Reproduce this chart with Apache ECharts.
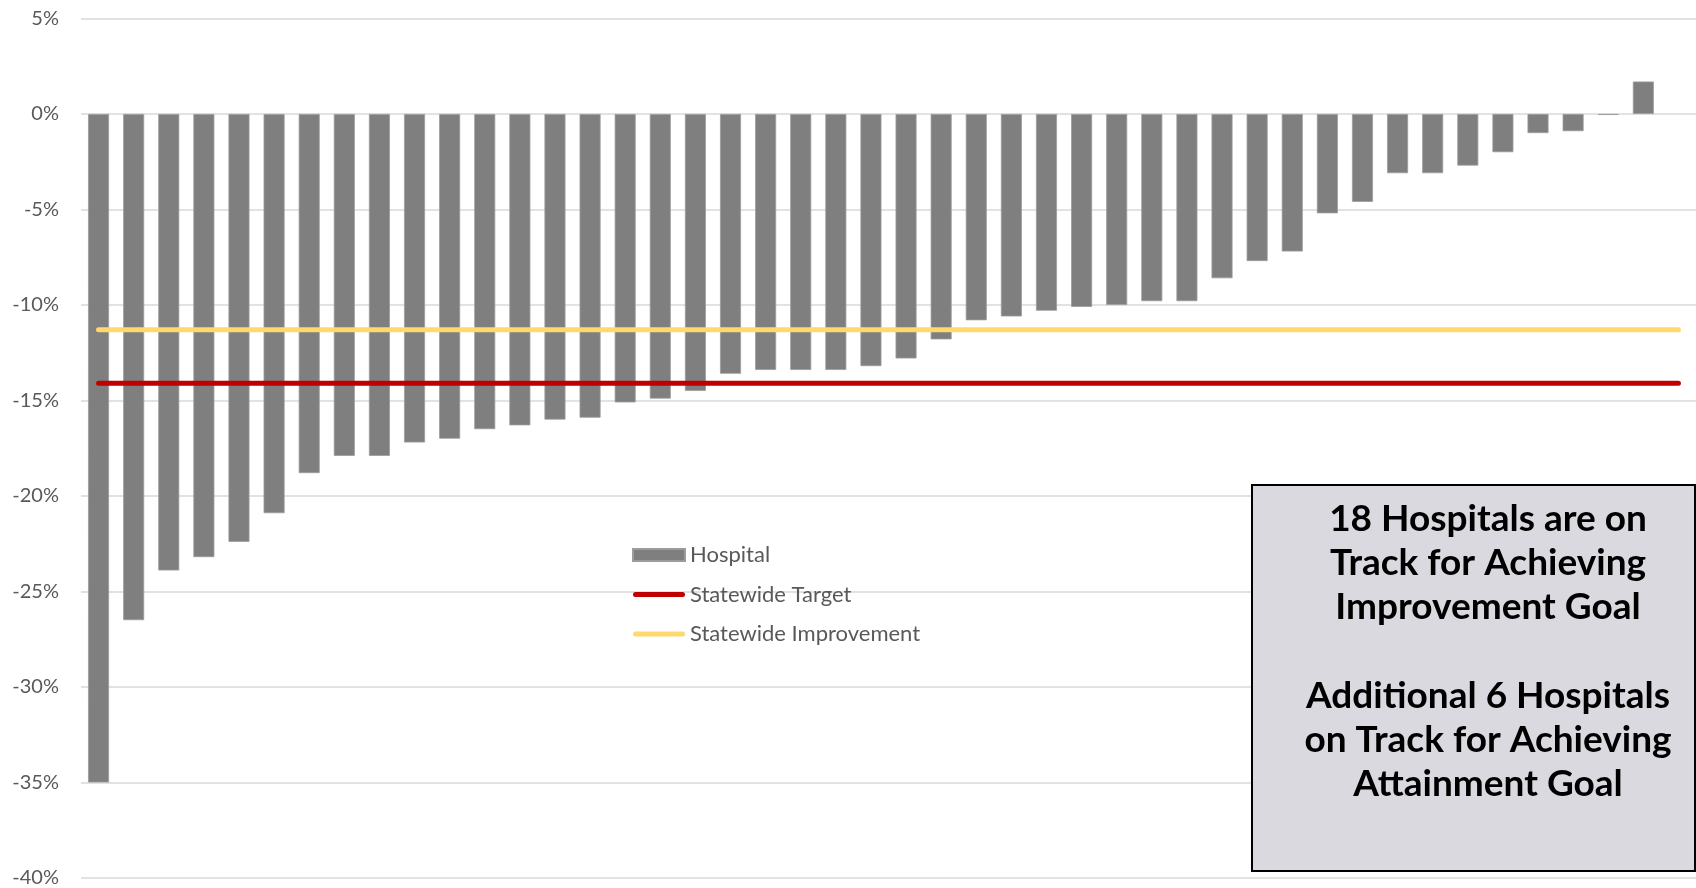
<!DOCTYPE html>
<html>
<head>
<meta charset="utf-8">
<script src="https://cdn.jsdelivr.net/npm/echarts@6/dist/echarts.min.js"></script>
<style>
  html, body { margin: 0; padding: 0; background: #fff; }
  #chart { width: 1696px; height: 888px; }
</style>
</head>
<body>
<div id="chart"></div>
<script>
// Hospitals ranked by change (%), last slot left empty as in the source sheet
var hospitals = [
  'H1', 'H2', 'H3', 'H4', 'H5', 'H6', 'H7', 'H8', 'H9', 'H10',
  'H11', 'H12', 'H13', 'H14', 'H15', 'H16', 'H17', 'H18', 'H19', 'H20',
  'H21', 'H22', 'H23', 'H24', 'H25', 'H26', 'H27', 'H28', 'H29', 'H30',
  'H31', 'H32', 'H33', 'H34', 'H35', 'H36', 'H37', 'H38', 'H39', 'H40',
  'H41', 'H42', 'H43', 'H44', 'H45', ''
];
var hospitalChange = [
  -35.0, -26.5, -23.9, -23.2, -22.4, -20.9, -18.8, -17.9, -17.9, -17.2,
  -17.0, -16.5, -16.3, -16.0, -15.9, -15.1, -14.9, -14.5, -13.6, -13.4,
  -13.4, -13.4, -13.2, -12.8, -11.8, -10.8, -10.6, -10.3, -10.1, -10.0,
  -9.8, -9.8, -8.6, -7.7, -7.2, -5.2, -4.6, -3.1, -3.1, -2.7,
  -2.0, -1.0, -0.9, -0.05, 1.7, null
];
var statewideTarget = -14.1;
var statewideImprovement = -11.3;
var yTicks = { min: -40, max: 5, step: 5 };
var noteLines = [
  '18 Hospitals are on',
  'Track for Achieving',
  'Improvement Goal',
  '',
  'Additional 6 Hospitals',
  'on Track for Achieving',
  'Attainment Goal'
];

var chart = echarts.init(document.getElementById('chart'), null, { renderer: 'canvas' });

var fontFamily = 'Lato, "Open Sans", sans-serif';
// thick line with rounded ends, used as legend key for the two reference lines
var lineIcon = 'path://M5,0 H99 A5,5 0 0 1 99,10 H5 A5,5 0 0 1 5,0 Z';

chart.setOption({
  animation: false,
  backgroundColor: '#fff',
  grid: { left: 81, right: 0, top: 18.5, bottom: 7, containLabel: false },
  legend: {
    orient: 'vertical',
    left: 627,
    top: 539,
    itemWidth: 52,
    itemHeight: 12,
    itemGap: 17.5,
    textStyle: { color: '#595959', fontSize: 22, fontFamily: fontFamily, lineHeight: 20 },
    data: [
      { name: 'Hospital', icon: 'rect' },
      { name: 'Statewide Target', icon: lineIcon },
      { name: 'Statewide Improvement', icon: lineIcon }
    ]
  },
  xAxis: {
    type: 'category',
    data: hospitals,
    axisLine: { show: false },
    axisTick: { show: false },
    axisLabel: { show: false },
    splitLine: { show: false }
  },
  yAxis: {
    type: 'value',
    min: yTicks.min,
    max: yTicks.max,
    interval: yTicks.step,
    axisLine: { show: false },
    axisTick: { show: false },
    axisLabel: {
      formatter: '{value}%',
      color: '#595959',
      fontSize: 20,
      fontFamily: fontFamily,
      margin: 22
    },
    splitLine: { lineStyle: { color: '#d9d9d9', width: 1.5 } }
  },
  series: [
    {
      name: 'Hospital',
      type: 'bar',
      data: hospitalChange,
      barWidth: 21,
      itemStyle: { color: '#7f7f7f', borderColor: '#9c9c9c', borderWidth: 0.8 },
      z: 2
    },
    {
      name: 'Statewide Target',
      type: 'line',
      data: hospitals.map(function () { return statewideTarget; }),
      symbol: 'none',
      color: '#c00000',
      lineStyle: { color: '#c00000', width: 5, cap: 'round' },
      z: 3
    },
    {
      name: 'Statewide Improvement',
      type: 'line',
      data: hospitals.map(function () { return statewideImprovement; }),
      symbol: 'none',
      color: '#ffd86e',
      lineStyle: { color: '#ffd86e', width: 5, cap: 'round' },
      z: 4
    }
  ],
  graphic: [
    {
      type: 'rect',
      left: 1251,
      top: 484,
      shape: { width: 443, height: 386 },
      style: { fill: '#d9d9df', stroke: '#000', lineWidth: 2 },
      z: 10
    },
    {
      type: 'text',
      x: 1488,
      y: 497,
      style: {
        text: noteLines.join('\n'),
        font: 'bold 37px ' + fontFamily,
        fill: '#000',
        align: 'center',
        verticalAlign: 'top',
        lineHeight: 44.2
      },
      z: 11
    }
  ]
});

window.addEventListener('resize', function () {
  chart.resize();
});
</script>
</body>
</html>
